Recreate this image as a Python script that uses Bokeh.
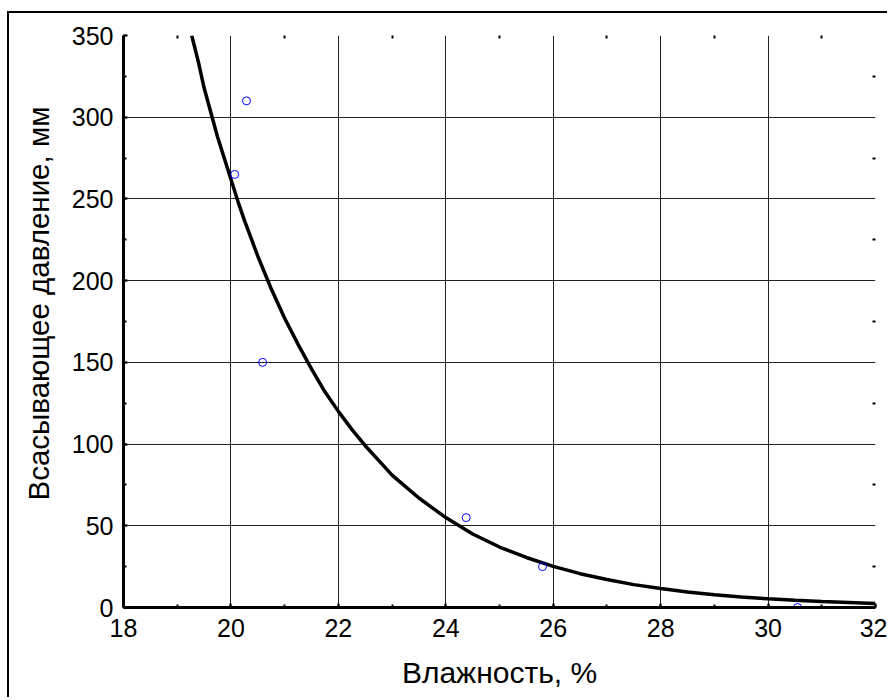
from bokeh.plotting import figure
from bokeh.models import Range1d, SingleIntervalTicker, FixedTicker, LinearAxis, Title
from bokeh.embed import file_html
from bokeh.resources import INLINE

# Measured points
moisture = [20.07, 20.29, 20.59, 24.38, 25.80, 30.55]
suction = [265, 310, 150, 55, 25, 0]

# Fitted curve
curve_x = [19.27, 19.4, 19.5, 19.625, 19.75, 19.875, 20.0, 20.125, 20.25, 20.375, 20.5,
           20.625, 20.75, 20.875, 21.0, 21.25, 21.5, 21.75, 22.0, 22.25, 22.5, 22.75, 23.0,
           23.25, 23.5, 23.75, 24.0, 24.5, 25.0, 25.5, 26.0, 26.5, 27.0, 27.5, 28.0,
           28.5, 29.0, 29.5, 30.0, 30.5, 31.0, 31.5, 32.0]
curve_y = [350, 333, 318, 303, 288, 275, 262, 249, 237, 226, 215,
           205, 195, 186, 177, 161, 146, 132, 120, 109, 99, 90, 81,
           74, 67, 61, 55, 45, 37, 30.6, 25.2, 20.7, 17.1, 14.0, 11.6,
           9.5, 7.8, 6.4, 5.3, 4.4, 3.6, 3.0, 2.4]

x_minor = [19, 21, 23, 25, 27, 29, 31]
y_minor = [25, 75, 125, 175, 225, 275, 325]

x_title = "Влажность, %"
y_title = "Всасывающее давление, мм"

FONT = "Liberation Sans"

p = figure(width=880, height=686, output_backend="svg", toolbar_location=None,
           x_range=Range1d(18, 32), y_range=Range1d(0, 350),
           min_border_left=114, min_border_right=14, min_border_top=22, min_border_bottom=92,
           x_axis_label=x_title)
p.margin = (11, 0, 0, 7)
p.styles = {"border-top": "2px solid black", "border-left": "2px solid black"}
p.outline_line_color = None
p.background_fill_color = "white"
p.border_fill_color = "white"

xt = SingleIntervalTicker(interval=2, num_minor_ticks=2)
yt = SingleIntervalTicker(interval=50, num_minor_ticks=2)
p.xaxis.ticker = xt
p.yaxis.ticker = yt
p.xgrid.ticker = xt
p.ygrid.ticker = yt

for g in (p.xgrid, p.ygrid):
    g.grid_line_color = "#222222"
    g.grid_line_width = 1

for ax in (p.xaxis, p.yaxis):
    ax.axis_line_width = 3
    ax.axis_line_color = "black"
    ax.major_tick_in = 4
    ax.major_tick_out = 0
    ax.minor_tick_in = 3
    ax.minor_tick_out = 0
    ax.major_tick_line_width = 2
    ax.minor_tick_line_width = 2
    ax.major_tick_line_color = "black"
    ax.minor_tick_line_color = "black"
    ax.major_label_text_font = FONT
    ax.major_label_text_font_size = "25px"
    ax.major_label_text_color = "black"
    ax.axis_label_text_font = FONT
    ax.axis_label_text_font_size = "30px"
    ax.axis_label_text_font_style = "normal"
    ax.axis_label_text_color = "black"

p.xaxis.major_label_standoff = 11
p.yaxis.major_label_standoff = 10
p.xaxis.axis_label_standoff = 16

top_ax = LinearAxis(ticker=FixedTicker(ticks=[], minor_ticks=x_minor),
                    axis_line_color=None, major_tick_in=0, major_tick_out=0,
                    minor_tick_in=3, minor_tick_out=0, minor_tick_line_width=2)
right_ax = LinearAxis(ticker=FixedTicker(ticks=[], minor_ticks=y_minor),
                      axis_line_color=None, major_tick_in=0, major_tick_out=0,
                      minor_tick_in=3, minor_tick_out=0, minor_tick_line_width=2)
p.add_layout(top_ax, "above")
p.add_layout(right_ax, "right")

ytitle = Title(text=y_title, align="left", offset=107, standoff=23,
               vertical_align="top", text_font=FONT, text_font_size="29.5px",
               text_font_style="normal", text_color="black")
p.add_layout(ytitle, "left")

p.line(curve_x, curve_y, line_color="black", line_width=3.5)
p.scatter(moisture, suction, size=8, marker="circle", fill_color=None,
          line_color="#0000ff", line_width=1)

open("out.html", "w").write(file_html(p, INLINE))
